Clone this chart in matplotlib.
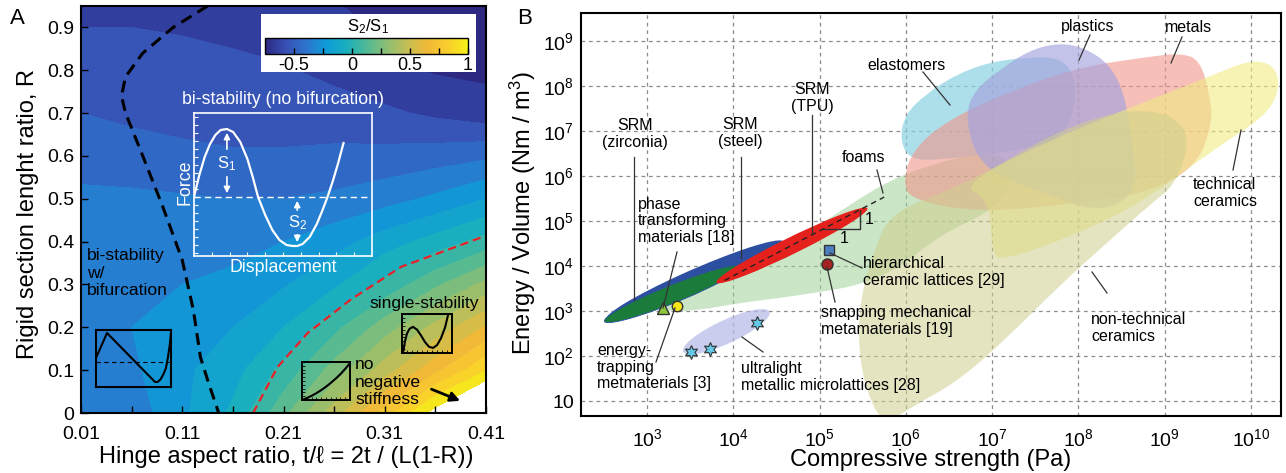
import numpy as np
import matplotlib
matplotlib.use("Agg")
import matplotlib.pyplot as plt
from matplotlib.colors import LinearSegmentedColormap, Normalize
from matplotlib.patches import PathPatch, Ellipse
from matplotlib.path import Path
from matplotlib.lines import Line2D
import matplotlib.cm as cm

plt.rcParams['font.family'] = ['Liberation Sans', 'DejaVu Sans']
plt.rcParams['mathtext.fontset'] = 'custom'
plt.rcParams['mathtext.rm'] = 'Liberation Sans'
plt.rcParams['mathtext.it'] = 'Liberation Sans:italic'
plt.rcParams['mathtext.default'] = 'regular'

# ---------------- DATA : panel A ----------------
hinge_ratio = [0.01, 0.06, 0.11, 0.16, 0.21, 0.26, 0.31, 0.36, 0.41]
rigid_ratio = [0.0, 0.1, 0.2, 0.3, 0.4, 0.5, 0.6, 0.7, 0.8, 0.9, 1.0]
ratio_S2_S1 = [
    [-0.40, -0.36, -0.22, -0.08, 0.17, 0.45, 0.74, 1.05, 1.35],
    [-0.36, -0.32, -0.22, -0.14, 0.03, 0.24, 0.45, 0.67, 0.89],
    [-0.32, -0.30, -0.24, -0.20, -0.10, 0.07, 0.25, 0.43, 0.61],
    [-0.33, -0.32, -0.30, -0.27, -0.21, -0.12, 0.03, 0.18, 0.33],
    [-0.36, -0.36, -0.36, -0.34, -0.30, -0.24, -0.15, -0.06, 0.04],
    [-0.38, -0.38, -0.39, -0.40, -0.40, -0.38, -0.34, -0.28, -0.20],
    [-0.44, -0.46, -0.48, -0.49, -0.49, -0.48, -0.47, -0.45, -0.42],
    [-0.50, -0.52, -0.53, -0.54, -0.54, -0.55, -0.58, -0.62, -0.66],
    [-0.55, -0.55, -0.56, -0.57, -0.59, -0.63, -0.68, -0.71, -0.72],
    [-0.60, -0.60, -0.61, -0.63, -0.65, -0.68, -0.71, -0.72, -0.73],
    [-0.62, -0.62, -0.64, -0.66, -0.68, -0.71, -0.73, -0.74, -0.74],
]
bifurcation_t = [0.135, 0.101, 0.071, 0.054, 0.050, 0.054, 0.071, 0.091, 0.110, 0.121, 0.128, 0.136, 0.146]
bifurcation_R = [0.95, 0.90, 0.84, 0.785, 0.74, 0.70, 0.60, 0.48, 0.357, 0.24, 0.13, 0.07, 0.0]
no_negative_t = [0.18, 0.204, 0.234, 0.276, 0.326, 0.385, 0.41]
no_negative_R = [0.0, 0.107, 0.187, 0.264, 0.341, 0.392, 0.414]

cbar_ticks = [-0.5, 0, 0.5, 1]
cbar_labels = ['-0.5', '0', '0.5', '1']
x_ticks_A = [0.01, 0.11, 0.21, 0.31, 0.41]
y_ticks_A = [0, 0.1, 0.2, 0.3, 0.4, 0.5, 0.6, 0.7, 0.8, 0.9]

# inset curves (displacement, force)
bistable_disp = [0, 0.03, 0.06, 0.09, 0.12, 0.15, 0.185, 0.22, 0.26, 0.30, 0.33, 0.36, 0.40, 0.44,
                 0.48, 0.52, 0.555, 0.58, 0.61, 0.65, 0.69, 0.72, 0.75, 0.78, 0.81, 0.84]
bistable_force = [0, 22, 40, 53, 62, 67, 68, 65, 55, 38, 20, 0, -18, -33,
                  -43, -48, -49, -49, -47, -40, -27, -14, 0, 16, 34, 54]
bifurc_disp = [0, 0.147, 0.787, 0.82, 0.86, 0.90, 0.933, 0.96, 0.987, 1.0]
bifurc_force = [4, 29, -20, -20, -17.5, -12, -6, 5, 19, 30]
nonneg_disp = [0, 0.1, 0.2, 0.3, 0.4, 0.5, 0.6, 0.7, 0.8, 0.9, 1.0]
nonneg_force = [0, 0.05, 0.11, 0.18, 0.26, 0.35, 0.45, 0.56, 0.68, 0.82, 0.97]
single_disp = [0.02, 0.06, 0.10, 0.15, 0.22, 0.30, 0.38, 0.46, 0.54, 0.62, 0.70, 0.78, 0.86, 0.92]
single_force = [0.0, 0.30, 0.50, 0.62, 0.67, 0.60, 0.45, 0.28, 0.16, 0.13, 0.20, 0.38, 0.65, 0.97]

# ---------------- DATA : panel B (log10 of strength, log10 of energy) ----------------
foams_logS = [3.17, 3.61, 4.19, 4.77, 5.35, 5.82, 6.28, 6.86, 7.21, 7.21, 6.97, 6.40, 5.93, 5.47, 5.01, 4.54, 4.08, 3.61, 3.24]
foams_logE = [3.11, 3.53, 4.09, 4.62, 5.36, 5.91, 6.24, 6.53, 6.40, 5.69, 5.20, 4.69, 3.96, 3.58, 3.42, 3.29, 3.18, 3.02, 2.98]
elast_logS = [5.93, 5.99, 6.22, 6.57, 6.97, 7.44, 7.79, 7.96, 7.96, 7.79, 7.32, 6.86, 6.40, 6.05]
elast_logE = [6.80, 7.36, 7.80, 8.24, 8.53, 8.64, 8.62, 8.24, 7.47, 6.80, 6.58, 6.47, 6.36, 6.36]
plast_logS = [6.69, 6.80, 7.09, 7.44, 7.79, 8.08, 8.37, 8.54, 8.62, 8.69, 8.48, 8.13, 7.67, 7.09, 6.80]
plast_logE = [7.36, 7.91, 8.36, 8.80, 8.96, 8.84, 8.47, 7.80, 6.80, 5.80, 5.36, 5.24, 5.58, 5.96, 6.47]
metal_logS = [5.97, 6.05, 6.86, 8.02, 8.79, 9.37, 9.56, 9.52, 9.41, 9.18, 8.79, 8.02, 7.24, 6.48, 6.08]
metal_logE = [5.91, 5.47, 5.18, 5.40, 5.62, 6.20, 7.18, 7.84, 8.58, 8.73, 8.64, 8.42, 7.91, 7.24, 6.58]
techc_logS = [6.63, 7.67, 8.83, 9.56, 9.99, 10.28, 10.34, 10.16, 9.56, 8.79, 8.02, 7.09, 7.00, 6.97]
techc_logE = [5.80, 6.80, 7.69, 8.24, 8.58, 8.47, 7.91, 7.31, 6.58, 5.47, 4.73, 4.09, 4.36, 5.47]
ntech_logS = [5.74, 5.55, 5.45, 5.47, 5.62, 5.82, 6.51, 7.09, 7.67, 8.37, 8.83, 9.18, 9.29, 9.12, 8.83, 8.37, 7.79, 7.21, 6.63, 6.11]
ntech_logE = [0.47, 1.18, 2.13, 3.24, 4.29, 5.18, 5.69, 6.24, 6.91, 7.40, 7.47, 7.24, 6.69, 5.80, 5.36, 4.58, 3.58, 2.47, 1.47, 0.91]

# ellipses: centre (log S, log E), length, width (decades), angle (deg)
micro_ell = (3.92, 2.54, 1.36, 0.42, 45)
srm_names = ['steel', 'zirconia', 'TPU']
srm_center_logS = [3.556, 3.296, 4.68]
srm_center_logE = [3.678, 3.378, 4.456]
srm_length = [2.69, 2.00, 2.41]
srm_width = [0.41, 0.34, 0.30]
srm_angle = [40.7, 38.5, 43.8]
srm_colors = ['#2d4fa2', '#1b7b3b', '#e5211d']

phase_S, phase_E = [1.55e3], [1.17e3]
trap_S, trap_E = [2.24e3], [1.29e3]
hier_S, hier_E = [1.29e5], [2.27e4]
snap_S, snap_E = [1.22e5], [1.11e4]
micro_S = [3.24e3, 5.37e3, 1.88e4]
micro_E = [123, 143, 541]
slope_S = [7.94e3, 5.62e5]
slope_E = [4.79e3, 3.39e5]
tri_S = [1.10e5, 2.95e5, 2.95e5]
tri_E = [6.61e4, 6.61e4, 1.78e5]

xticks_B = [1e3, 1e4, 1e5, 1e6, 1e7, 1e8, 1e9, 1e10]
xlabels_B = ['$10^{%d}$' % k for k in range(3, 11)]
yticks_B = [1e1, 1e2, 1e3, 1e4, 1e5, 1e6, 1e7, 1e8, 1e9]
ylabels_B = ['10'] + ['$10^{%d}$' % k for k in range(2, 10)]

# ---------------- figure ----------------
W, H = 1286, 473
fig = plt.figure(figsize=(W / 100, H / 100), dpi=100)


def box(x0, y0, x1, y1):
    return [x0 / W, 1 - y1 / H, (x1 - x0) / W, (y1 - y0) / H]


def ftext(x, y, s, **kw):
    fig.text(x / W, 1 - y / H, s, **kw)


def fline(x0, y0, x1, y1):
    fig.add_artist(Line2D([x0 / W, x1 / W], [1 - y0 / H, 1 - y1 / H], transform=fig.transFigure,
                          color='#333333', lw=0.9))


parula = LinearSegmentedColormap.from_list(
    'parula_print', ['#2d2882', '#3750b4', '#2d73cd', '#0f9bd7', '#19afbe', '#50b996',
                     '#8cbe73', '#c3be55', '#f0b937', '#facd2d', '#f5f019'])
norm = Normalize(-0.75, 1.0)

# ---------- panel A ----------
axA = fig.add_axes(box(81, 6, 486, 413))
Xg, Yg = np.meshgrid(hinge_ratio, rigid_ratio)
axA.contourf(Xg, Yg, np.array(ratio_S2_S1), levels=np.linspace(-0.8, 1.0, 19), cmap=parula, norm=norm)
axA.plot(bifurcation_t, bifurcation_R, color='black', lw=2.2, dashes=(3.9, 2.3))
axA.plot(no_negative_t, no_negative_R, color='#e8202a', lw=1.6, dashes=(3.7, 2.2))
axA.set_xlim(0.01, 0.41)
axA.set_ylim(0, 0.95)
axA.set_xticks(x_ticks_A)
axA.set_xticklabels(['%.2f' % v for v in x_ticks_A])
axA.set_xticks([0.06, 0.16, 0.26, 0.36], minor=True)
axA.set_yticks(y_ticks_A)
axA.set_yticklabels(['0'] + ['%.1f' % v for v in y_ticks_A[1:]])
axA.tick_params(which='both', direction='in', length=5, width=1, labelsize=14, top=False, right=False)
axA.tick_params(axis='x', pad=9)
axA.tick_params(axis='y', pad=5)
for s in axA.spines.values():
    s.set_linewidth(1.5)
axA.annotate('', xy=(0.387, 0.026), xytext=(0.3536, 0.058),
             arrowprops=dict(arrowstyle='-|>', color='black', lw=2, mutation_scale=14))

ftext(28, 214, 'Rigid section lenght ratio, R', fontsize=17, rotation=90, ha='center', va='center')
ftext(286, 457, 'Hinge aspect ratio, t/\u2113 = 2t / (L(1-R))', fontsize=17, ha='center', va='center')
ftext(17, 19, 'A', fontsize=16, ha='center', va='center')

# colorbar box
bx = fig.add_axes(box(261, 14, 476, 72))
bx.set_xticks([]); bx.set_yticks([])
bx.set_facecolor('white')
for s in bx.spines.values():
    s.set_visible(False)
cax = fig.add_axes(box(265, 38, 468, 54))
cb = fig.colorbar(cm.ScalarMappable(norm=norm, cmap=parula), cax=cax, orientation='horizontal')
cb.set_ticks(cbar_ticks)
cb.set_ticklabels(cbar_labels)
cax.set_xticks([-0.25, 0.25, 0.75], minor=True)
cax.tick_params(which='both', direction='in', length=4, width=1, labelsize=13, pad=2)
cb.outline.set_linewidth(1)
ftext(368, 27, 'S$_2$/S$_1$', fontsize=12, ha='center', va='center')

# big inset
ins = fig.add_axes(box(194, 113, 372, 256))
ins.set_facecolor('none')
ins.plot(bistable_disp, bistable_force, color='white', lw=1.6)
ins.axhline(0, color='white', lw=1, dashes=(4.5, 3))
ins.set_xlim(0, 1)
ins.set_ylim(-59, 84)
ins.set_xticks(np.arange(0.1, 1.0, 0.1))
ins.set_yticks(np.arange(-56, 84, 8))
ins.tick_params(direction='in', length=3, color='white', labelbottom=False, labelleft=False)
for s in ins.spines.values():
    s.set_color('white'); s.set_linewidth(1.2)
aw = dict(arrowstyle='-|>', color='white', lw=1.2, mutation_scale=9)
ins.annotate('', xy=(0.185, 67), xytext=(0.185, 45), arrowprops=aw)
ins.annotate('', xy=(0.185, 1), xytext=(0.185, 23), arrowprops=aw)
ins.text(0.185, 33, 'S$_1$', color='white', fontsize=12, ha='center', va='center')
ins.annotate('', xy=(0.58, -1), xytext=(0.58, -16), arrowprops=aw)
ins.annotate('', xy=(0.58, -48), xytext=(0.58, -35), arrowprops=aw)
ins.text(0.58, -26, 'S$_2$', color='white', fontsize=12, ha='center', va='center')
ftext(283, 99, 'bi-stability (no bifurcation)', color='white', fontsize=12.8, ha='center', va='center')
ftext(185, 182, 'Force', color='white', fontsize=12.8, rotation=90, ha='center', va='center')
ftext(283, 268, 'Displacement', color='white', fontsize=12.8, ha='center', va='center')

# bifurcation inset
ib = fig.add_axes(box(96, 330, 171, 387))
ib.set_facecolor('none')
ib.plot(bifurc_disp, bifurc_force, color='black', lw=1.5)
ib.axhline(0, color='black', lw=0.8, dashes=(4, 3))
ib.set_xlim(0, 1); ib.set_ylim(-25, 32)
ib.set_xticks([]); ib.set_yticks([])
for s in ib.spines.values():
    s.set_linewidth(1.5)
ftext(87, 273, 'bi-stability\nw/\nbifurcation', fontsize=12.6, ha='left', va='center', linespacing=1.2)

# no negative stiffness inset
inn = fig.add_axes(box(302, 362, 350, 400))
inn.set_facecolor('none')
inn.plot(nonneg_disp, nonneg_force, color='black', lw=1.5)
inn.set_xlim(0, 1); inn.set_ylim(0, 1)
inn.set_xticks(np.arange(0.1, 1, 0.1)); inn.set_yticks(np.arange(0.1, 1, 0.1))
inn.tick_params(direction='in', length=2, width=0.6, labelbottom=False, labelleft=False)
for s in inn.spines.values():
    s.set_linewidth(1.4)
ftext(355, 382, 'no\nnegative\nstiffness', fontsize=12.6, ha='left', va='center', linespacing=1.2)

# single stability inset
iss = fig.add_axes(box(402, 314, 452, 353))
iss.set_facecolor('none')
iss.plot(single_disp, single_force, color='black', lw=1.5)
iss.set_xlim(0, 1); iss.set_ylim(0, 1)
iss.set_xticks(np.arange(0.1, 1, 0.1)); iss.set_yticks(np.arange(0.1, 1, 0.1))
iss.tick_params(direction='in', length=2, width=0.6, labelbottom=False, labelleft=False)
for s in iss.spines.values():
    s.set_linewidth(1.4)
ftext(370, 303, 'single-stability', fontsize=12.6, ha='left', va='center')

# ---------- panel B ----------
axB = fig.add_axes(box(581, 13, 1281, 416))
axB.set_xscale('log'); axB.set_yscale('log')
axB.set_xlim(10 ** 2.235, 10 ** 10.35)
axB.set_ylim(10 ** 0.667, 10 ** 9.62)
axB.set_xticks(xticks_B); axB.set_xticklabels(xlabels_B)
axB.set_yticks(yticks_B); axB.set_yticklabels(ylabels_B)
axB.xaxis.set_minor_locator(matplotlib.ticker.NullLocator())
axB.yaxis.set_minor_locator(matplotlib.ticker.NullLocator())
axB.tick_params(length=0, labelsize=14)
axB.tick_params(axis='x', pad=9)
axB.tick_params(axis='y', pad=5)
axB.grid(True, color='#8c8c8c', lw=0.9, linestyle=(0, (3, 3)))
axB.set_axisbelow(True)
for s in axB.spines.values():
    s.set_linewidth(1.5)

logT = axB.transLimits + axB.transAxes


def blob(xs, ys):
    pts = np.column_stack([xs, ys])
    mids = (pts + np.roll(pts, -1, axis=0)) / 2
    verts = [mids[-1]]
    codes = [Path.MOVETO]
    for i in range(len(pts)):
        verts += [pts[i], mids[i]]
        codes += [Path.CURVE3, Path.CURVE3]
    verts.append(mids[-1]); codes.append(Path.CLOSEPOLY)
    return Path(verts, codes)


for xs, ys, col, al in [
        (foams_logS, foams_logE, '#9fd39a', 0.55),
        (elast_logS, elast_logE, '#8ad2e2', 0.7),
        (metal_logS, metal_logE, '#f0958a', 0.6),
        (plast_logS, plast_logE, '#a4a2dd', 0.65),
        (techc_logS, techc_logE, '#f2ec84', 0.6),
        (ntech_logS, ntech_logE, '#cfcf8e', 0.55)]:
    pp = PathPatch(blob(xs, ys), facecolor=col, edgecolor='none', alpha=al, transform=logT)
    pp.set_clip_path(axB.patch)
    axB.add_artist(pp)

e = Ellipse(micro_ell[:2], micro_ell[2], micro_ell[3], angle=micro_ell[4], facecolor='#b4b9e6',
            edgecolor='none', alpha=0.7, transform=logT)
axB.add_artist(e)
for i in range(3):
    e = Ellipse((srm_center_logS[i], srm_center_logE[i]), srm_length[i], srm_width[i], angle=srm_angle[i],
                facecolor=srm_colors[i], edgecolor='#2d4fa2' if i == 1 else 'none', lw=0.6, transform=logT)
    axB.add_artist(e)

axB.plot(slope_S, slope_E, color='#222222', lw=1, dashes=(4, 3))
axB.plot(tri_S, tri_E, color='#333333', lw=1)
axB.text(10 ** 5.52, 10 ** 5.03, '1', fontsize=11.5, ha='left', va='center')
axB.text(10 ** 5.29, 10 ** 4.6, '1', fontsize=11.5, ha='center', va='center')

axB.plot(phase_S, phase_E, marker='^', ms=8, mfc='#8cc63f', mec='#333333', ls='none')
axB.plot(trap_S, trap_E, marker='o', ms=7.5, mfc='#f7e51c', mec='#333333', ls='none')
axB.plot(hier_S, hier_E, marker='s', ms=7, mfc='#4b7fc1', mec='#333333', ls='none')
axB.plot(snap_S, snap_E, marker='o', ms=8, mfc='#a52222', mec='#333333', ls='none')
axB.plot(micro_S, micro_E, marker=(6, 1, 0), ms=10, mfc='#63c9e6', mec='#333333', mew=0.8, ls='none')

ftext(931, 460, 'Compressive strength (Pa)', fontsize=17, ha='center', va='center')
ftext(523, 213, 'Energy / Volume (Nm / m$^3$)', fontsize=17, rotation=90, ha='center', va='center')
ftext(525, 18, 'B', fontsize=16, ha='center', va='center')

fs = 11.5
ftext(635, 134, 'SRM\n(zirconia)', fontsize=fs, ha='center', va='center')
ftext(740, 133, 'SRM\n(steel)', fontsize=fs, ha='center', va='center')
ftext(812, 98, 'SRM\n(TPU)', fontsize=fs, ha='center', va='center')
ftext(863, 158, 'foams', fontsize=fs, ha='center', va='center')
ftext(638, 221, 'phase\ntransforming\nmaterials [18]', fontsize=fs, ha='left', va='center', linespacing=1.15)
ftext(597, 367, 'energy-\ntrapping\nmetmaterials [3]', fontsize=fs, ha='left', va='center', linespacing=1.15)
ftext(741, 377, 'ultralight\nmetallic microlattices [28]', fontsize=fs, ha='left', va='center', linespacing=1.15)
ftext(863, 272, 'hierarchical\nceramic lattices [29]', fontsize=fs, ha='left', va='center', linespacing=1.15)
ftext(821, 321, 'snapping mechanical\nmetamaterials [19]', fontsize=fs, ha='left', va='center', linespacing=1.15)
ftext(867, 65, 'elastomers', fontsize=fs, ha='left', va='center')
ftext(1088, 26, 'plastics', fontsize=fs, ha='center', va='center')
ftext(1188, 28, 'metals', fontsize=fs, ha='center', va='center')
ftext(1193, 193, 'technical\nceramics', fontsize=fs, ha='left', va='center', linespacing=1.15)
ftext(1091, 328, 'non-technical\nceramics', fontsize=fs, ha='left', va='center', linespacing=1.15)

for seg in [(634, 157, 634, 300), (741, 157, 741, 258), (812, 115, 812, 233), (877, 170, 883, 193),
            (677, 252, 663, 308), (656, 362, 675, 308), (763, 352, 742, 337), (830, 253, 862, 268),
            (827, 267, 835, 302), (923, 72, 950, 105), (1090, 35, 1079, 60), (1182, 37, 1171, 63),
            (1241, 130, 1233, 170), (1092, 272, 1107, 293)]:
    fline(*seg)

fig.savefig('out.png', dpi=100)
